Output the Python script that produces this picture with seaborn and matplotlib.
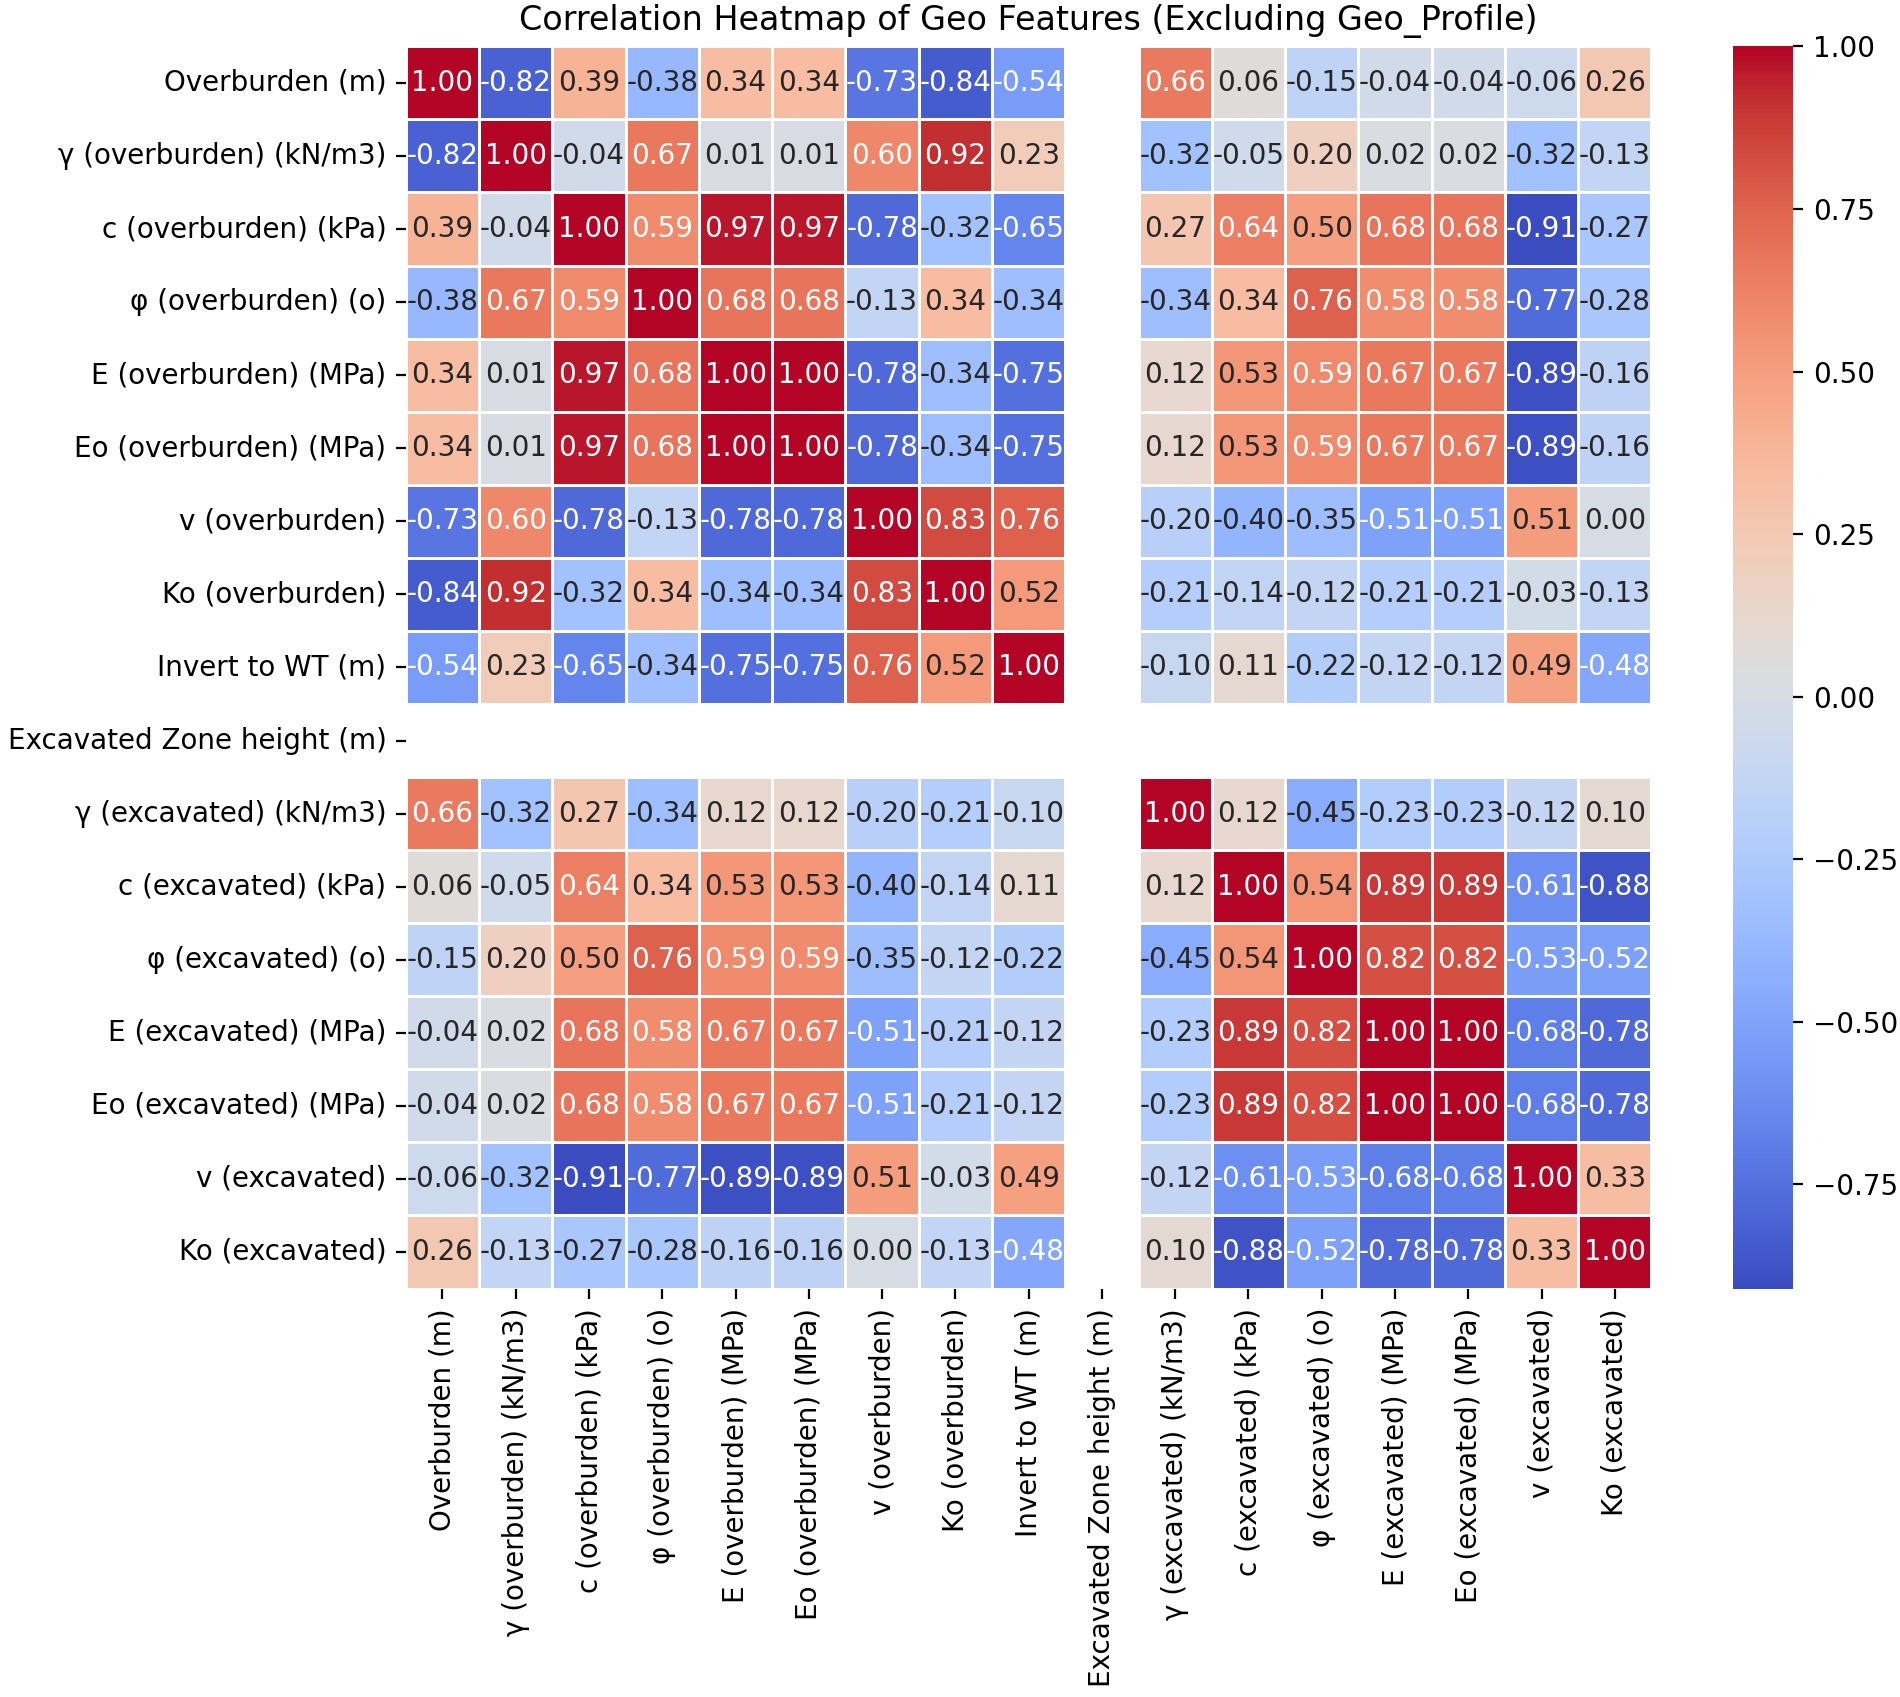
import matplotlib
matplotlib.use("Agg")
import matplotlib.pyplot as plt
import numpy as np
import pandas as pd
import seaborn as sns

nan = np.nan

# Feature names (Geo_Profile excluded)
features = [
    "Overburden (m)", "γ (overburden) (kN/m3)", "c (overburden) (kPa)",
    "φ (overburden) (o)", "E (overburden) (MPa)", "Eo (overburden) (MPa)",
    "v (overburden)", "Ko (overburden)", "Invert to WT (m)",
    "Excavated Zone height (m)",
    "γ (excavated) (kN/m3)", "c (excavated) (kPa)", "φ (excavated) (o)",
    "E (excavated) (MPa)", "Eo (excavated) (MPa)", "v (excavated)",
    "Ko (excavated)",
]

# Correlation values read row by row (Excavated Zone height is constant -> NaN)
overburden = [1.00, -0.82, 0.39, -0.38, 0.34, 0.34, -0.73, -0.84, -0.54, nan, 0.66, 0.06, -0.15, -0.04, -0.04, -0.06, 0.26]
gamma_ob = [-0.82, 1.00, -0.04, 0.67, 0.01, 0.01, 0.60, 0.92, 0.23, nan, -0.32, -0.05, 0.20, 0.02, 0.02, -0.32, -0.13]
c_ob = [0.39, -0.04, 1.00, 0.59, 0.97, 0.97, -0.78, -0.32, -0.65, nan, 0.27, 0.64, 0.50, 0.68, 0.68, -0.91, -0.27]
phi_ob = [-0.38, 0.67, 0.59, 1.00, 0.68, 0.68, -0.13, 0.34, -0.34, nan, -0.34, 0.34, 0.76, 0.58, 0.58, -0.77, -0.28]
e_ob = [0.34, 0.01, 0.97, 0.68, 1.00, 1.00, -0.78, -0.34, -0.75, nan, 0.12, 0.53, 0.59, 0.67, 0.67, -0.89, -0.16]
eo_ob = [0.34, 0.01, 0.97, 0.68, 1.00, 1.00, -0.78, -0.34, -0.75, nan, 0.12, 0.53, 0.59, 0.67, 0.67, -0.89, -0.16]
v_ob = [-0.73, 0.60, -0.78, -0.13, -0.78, -0.78, 1.00, 0.83, 0.76, nan, -0.20, -0.40, -0.35, -0.51, -0.51, 0.51, 0.00]
ko_ob = [-0.84, 0.92, -0.32, 0.34, -0.34, -0.34, 0.83, 1.00, 0.52, nan, -0.21, -0.14, -0.12, -0.21, -0.21, -0.03, -0.13]
invert_wt = [-0.54, 0.23, -0.65, -0.34, -0.75, -0.75, 0.76, 0.52, 1.00, nan, -0.10, 0.11, -0.22, -0.12, -0.12, 0.49, -0.48]
zone_height = [nan] * 17
gamma_ex = [0.66, -0.32, 0.27, -0.34, 0.12, 0.12, -0.20, -0.21, -0.10, nan, 1.00, 0.12, -0.45, -0.23, -0.23, -0.12, 0.10]
c_ex = [0.06, -0.05, 0.64, 0.34, 0.53, 0.53, -0.40, -0.14, 0.11, nan, 0.12, 1.00, 0.54, 0.89, 0.89, -0.61, -0.88]
phi_ex = [-0.15, 0.20, 0.50, 0.76, 0.59, 0.59, -0.35, -0.12, -0.22, nan, -0.45, 0.54, 1.00, 0.82, 0.82, -0.53, -0.52]
e_ex = [-0.04, 0.02, 0.68, 0.58, 0.67, 0.67, -0.51, -0.21, -0.12, nan, -0.23, 0.89, 0.82, 1.00, 1.00, -0.68, -0.78]
eo_ex = [-0.04, 0.02, 0.68, 0.58, 0.67, 0.67, -0.51, -0.21, -0.12, nan, -0.23, 0.89, 0.82, 1.00, 1.00, -0.68, -0.78]
v_ex = [-0.06, -0.32, -0.91, -0.77, -0.89, -0.89, 0.51, -0.03, 0.49, nan, -0.12, -0.61, -0.53, -0.68, -0.68, 1.00, 0.33]
ko_ex = [0.26, -0.13, -0.27, -0.28, -0.16, -0.16, 0.00, -0.13, -0.48, nan, 0.10, -0.88, -0.52, -0.78, -0.78, 0.33, 1.00]

rows = [overburden, gamma_ob, c_ob, phi_ob, e_ob, eo_ob, v_ob, ko_ob, invert_wt,
        zone_height, gamma_ex, c_ex, phi_ex, e_ex, eo_ex, v_ex, ko_ex]
correlation_matrix = pd.DataFrame(rows, index=features, columns=features)

# Create the heatmap
fig = plt.figure(figsize=(9.5, 8.485), dpi=200)
ax = fig.add_axes([0.2136, 0.2407, 0.6556, 0.732])
cax = fig.add_axes([0.912, 0.2407, 0.0319, 0.732])

sns.heatmap(correlation_matrix, annot=True, cmap="coolwarm", fmt=".2f",
            linewidths=.5, ax=ax, cbar_ax=cax)
ax.set_xticklabels(features, rotation=90)
ax.set_yticklabels(features, rotation=0)
ax.set_title("Correlation Heatmap of Geo Features (Excluding Geo_Profile)")

plt.savefig("out.png", dpi=200)
